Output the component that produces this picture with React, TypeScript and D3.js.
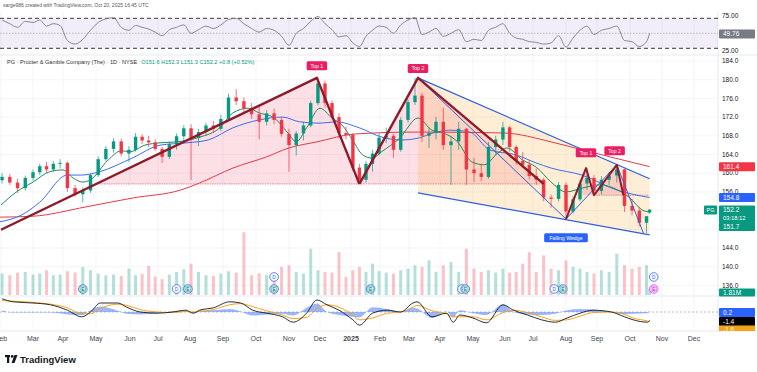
import React from "react";
import * as d3 from "d3";

// ---------------- DATA ----------------
// weekly candles (Friday closes) + the current session
const candleDates: Date[] = [
  ...d3.timeFriday.range(new Date(2024, 1, 2), new Date(2025, 9, 18)),
  new Date(2025, 9, 20),
];
const opens = [158.5,159.2,158.0,156.8,159.0,160.2,161.5,160.8,162.0,162.2,156.8,155.5,156.3,159.6,163.0,165.2,166.8,164.2,165.0,167.8,167.0,166.6,165.2,163.5,166.2,167.9,169.6,167.5,168.8,170.2,169.5,171.6,176.2,175.4,173.8,172.6,171.0,172.8,171.4,168.4,166.0,168.5,170.2,175.0,179.2,175.0,172.0,168.6,168.2,161.2,158.6,162.0,164.2,167.6,168.0,165.0,171.4,175.2,176.6,168.0,168.6,171.0,166.0,166.8,169.5,160.8,160.0,159.2,165.6,167.2,169.8,165.6,162.6,161.8,159.4,158.6,154.8,154.5,157.5,151.8,154.4,157.8,159.0,156.2,158.6,159.5,160.8,153.0,152.0,149.4,151.6];
const highs = [160.0,159.8,158.8,159.5,160.8,162.0,162.4,162.6,163.0,162.5,157.5,157.0,160.0,163.6,165.8,167.5,167.4,165.8,168.6,168.3,168.0,167.2,165.6,166.8,168.5,170.3,170.5,169.5,170.8,171.2,172.5,177.0,178.0,176.2,175.0,174.2,173.5,173.8,172.0,169.5,169.0,171.0,175.5,180.4,179.8,175.6,172.8,170.0,168.6,162.0,162.6,165.0,168.5,169.7,168.4,172.0,175.8,180.4,177.2,169.8,172.0,174.0,168.0,171.0,169.7,163.3,162.0,166.7,168.0,171.0,170.2,166.0,164.5,162.8,161.0,159.0,155.4,158.1,158.0,155.0,158.6,161.1,159.6,159.4,160.3,161.8,161.0,154.5,152.8,150.8,152.3];
const lows = [157.8,157.5,155.8,156.3,158.4,159.6,160.1,160.3,161.0,156.0,155.0,153.8,155.8,159.2,162.6,164.4,163.6,162.4,164.6,166.2,165.6,164.8,162.2,163.0,165.0,166.8,158.5,165.8,168.0,168.6,169.0,171.2,174.6,173.0,171.6,167.2,170.2,170.5,167.8,160.3,163.8,167.0,169.8,174.5,174.0,171.5,167.4,167.2,160.5,157.7,158.0,160.3,163.8,166.4,163.3,164.6,170.8,174.6,166.7,165.4,167.2,165.0,157.5,165.0,157.5,158.1,158.3,158.8,163.9,166.0,164.6,161.8,161.2,158.6,157.5,154.0,152.6,154.0,150.2,151.4,154.0,156.4,155.3,155.5,157.5,158.0,151.7,151.0,148.6,147.2,151.3];
const closes = [159.2,158.0,156.8,159.0,160.2,161.5,160.8,162.0,162.2,156.8,155.5,156.3,159.6,163.0,165.2,166.8,164.2,165.0,167.8,167.0,166.6,165.2,163.5,166.2,167.9,169.6,167.5,168.8,170.2,169.5,171.6,176.2,175.4,173.8,172.6,171.0,172.8,171.4,168.4,166.0,168.5,170.2,175.0,179.2,175.0,172.0,168.6,168.2,161.2,158.6,162.0,164.2,167.6,168.0,165.0,171.4,175.2,176.6,168.0,168.6,171.0,166.0,166.8,169.5,160.8,160.0,159.2,165.6,167.2,169.8,165.6,162.6,161.8,159.4,158.6,154.8,154.5,157.5,151.8,154.4,157.8,159.0,156.2,158.6,159.5,160.8,153.0,152.0,149.4,150.8,152.2];
// volume, millions (peak session of each week)
const volumes = [6.5,6.0,6.8,7.0,6.2,6.5,7.5,6.0,6.2,7.2,6.8,8.5,7.5,6.5,6.0,6.2,5.8,8.0,6.0,6.4,8.8,5.6,4.8,6.2,7.0,7.8,9.5,7.0,6.0,5.8,6.5,7.2,6.8,19.0,6.0,6.6,6.0,6.4,8.5,9.0,7.0,6.5,14.0,7.5,7.0,6.8,13.0,5.5,7.5,8.5,7.0,9.5,7.2,6.8,6.5,7.5,8.0,9.0,8.5,10.5,7.0,9.0,10.0,7.0,14.0,8.0,7.0,7.5,6.8,8.0,6.8,7.0,9.5,13.0,7.0,12.0,8.0,7.5,10.5,8.5,8.0,7.0,6.5,7.5,7.0,12.5,9.0,8.0,8.5,9.0,1.81];
const rsiValues = [72,66,60,70,68,72,62,66,63,38,32,40,55,68,74,76,60,55,63,60,57,52,46,56,60,64,50,56,62,58,64,73,75,66,58,52,58,55,45,30,50,58,70,78,66,56,44,46,34,28,45,55,62,60,50,64,72,76,48,52,58,45,50,56,36,40,38,55,60,66,50,42,40,36,35,32,34,46,27,42,55,62,48,55,58,62,38,36,28,36,49.76];

const emaDates = ["2024-02-01","2024-02-15","2024-03-01","2024-03-18","2024-04-01","2024-04-10","2024-04-19","2024-04-26","2024-05-12","2024-05-24","2024-06-01","2024-06-17","2024-07-03","2024-07-19","2024-08-10","2024-08-29","2024-09-10","2024-09-24","2024-10-04","2024-10-17","2024-10-31","2024-11-08","2024-11-18","2024-12-01","2024-12-13","2024-12-23","2025-01-03","2025-01-13","2025-01-24","2025-02-02","2025-02-20","2025-03-10","2025-03-24","2025-04-04","2025-04-17","2025-04-30","2025-05-12","2025-05-25","2025-06-03","2025-06-20","2025-07-04","2025-07-18","2025-08-01","2025-08-17","2025-09-03","2025-09-20","2025-10-01","2025-10-13","2025-10-20"];
const emaValues = [153.2,156.0,158.1,160.3,160.7,159.0,158.1,158.6,162.8,164.8,164.6,166.0,166.5,166.7,167.7,169.7,172.9,173.9,172.9,172.0,168.6,166.7,169.7,173.9,171.8,170.3,167.0,164.0,163.2,164.5,167.5,171.8,169.2,168.6,166.7,162.4,161.8,164.3,165.4,162.8,161.3,158.1,156.0,156.8,157.5,156.4,154.7,152.1,151.7];
const sma50Dates = ["2024-01-31","2024-02-20","2024-03-08","2024-04-05","2024-04-18","2024-05-04","2024-06-04","2024-07-03","2024-07-29","2024-08-18","2024-09-10","2024-10-04","2024-10-26","2024-11-11","2024-12-01","2024-12-17","2025-01-10","2025-02-03","2025-02-21","2025-03-10","2025-03-25","2025-04-10","2025-04-28","2025-05-17","2025-06-13","2025-07-04","2025-07-18","2025-08-17","2025-09-19","2025-10-20"];
const sma50Values = [149.6,151.1,153.8,159.6,159.6,160.3,163.3,166.0,166.5,167.1,169.7,171.4,172.0,171.0,170.7,171.0,169.7,167.7,167.1,167.5,168.6,169.2,168.8,165.0,163.9,162.2,161.1,159.6,156.4,154.8];
const sma200Dates = ["2024-01-31","2024-03-01","2024-04-22","2024-06-04","2024-07-23","2024-08-10","2024-09-10","2024-10-11","2024-11-01","2024-11-28","2025-01-06","2025-03-10","2025-05-31","2025-07-18","2025-08-17","2025-10-20"];
const sma200Values = [150.6,150.8,152.8,154.7,156.4,157.9,161.1,163.5,165.4,166.7,168.4,168.8,168.6,166.7,165.0,161.4];

const macdDates = ["2024-02-02","2024-02-12","2024-03-01","2024-03-19","2024-04-05","2024-04-18","2024-04-26","2024-05-05","2024-05-21","2024-05-29","2024-06-12","2024-06-30","2024-07-15","2024-07-28","2024-08-04","2024-08-10","2024-08-23","2024-09-07","2024-09-17","2024-09-28","2024-10-11","2024-10-26","2024-11-05","2024-11-18","2024-11-28","2024-12-08","2024-12-20","2025-01-03","2025-01-10","2025-01-24","2025-02-08","2025-02-21","2025-03-05","2025-03-09","2025-03-24","2025-04-07","2025-04-13","2025-04-19","2025-05-01","2025-05-14","2025-05-30","2025-06-10","2025-06-25","2025-07-09","2025-07-22","2025-08-02","2025-08-15","2025-08-28","2025-09-14","2025-09-26","2025-10-04","2025-10-18","2025-10-20"];
const macdValues = [2.2,1.7,1.5,1.2,0.3,-0.8,0.0,1.5,1.5,0.8,0.0,-0.2,0.0,0.3,-0.2,0.3,0.7,1.7,1.5,0.3,-0.2,-0.8,-1.7,-0.2,2.0,1.2,0.3,-1.3,-2.2,-0.2,0.3,0.0,1.5,1.7,-0.8,-0.2,-1.7,-0.5,-1.0,-1.8,1.2,0.3,-0.5,-1.3,-1.7,-1.0,-0.2,0.3,0.0,-0.8,-1.3,-1.7,-1.4];
const signalValues = [1.9,1.8,1.6,1.3,0.7,-0.3,-0.3,0.6,1.3,1.1,0.4,0.0,-0.1,0.1,0.0,0.1,0.4,1.2,1.4,0.9,0.2,-0.5,-1.1,-0.9,0.6,1.2,0.8,-0.5,-1.3,-1.0,-0.2,0.0,0.8,1.1,0.2,-0.3,-0.8,-0.8,-0.8,-1.3,-0.1,0.3,-0.1,-0.8,-1.4,-1.3,-0.7,-0.1,0.0,-0.4,-1.0,-1.5,-1.6];

const eventDates = ["2024-04-19","2024-07-19","2024-07-30","2024-10-18","2024-10-18","2025-01-22","2025-04-21","2025-04-24","2025-07-21","2025-07-29","2025-10-24","2025-10-24"];
const eventKinds = ["E","D","E","E","D","E","D","E","D","E","Ef","D"];

// pattern drawings (date, price)
const triangle1 = [["2024-02-01",147.9],["2024-11-28",180.4],["2025-01-10",157.7]];
const triangle1FillStart = ["2024-05-04",157.7];
const triangle2 = [["2025-01-10",157.7],["2025-03-10",180.4],["2025-07-11",157.7]];
const neckline1 = [["2024-05-04",157.7],["2025-07-11",157.7]];
const wedgeUpper = [["2025-03-10",180.4],["2025-10-20",158.8]];
const wedgeLower = [["2025-03-10",155.8],["2025-10-20",146.8]];
const wedgeInner = [["2025-03-10",180.4],["2025-08-01",150.2],["2025-09-19",161.8],["2025-10-14",147.2]];
const doubleTop = [["2025-08-01",150.2],["2025-08-21",161.1],["2025-08-29",155.3],["2025-09-19",161.8],["2025-09-25",155.3]];
const doubleTopFillA = [["2025-08-12",155.3],["2025-08-21",161.1],["2025-08-29",155.3]];
const doubleTopFillB = [["2025-08-29",155.3],["2025-09-19",161.8],["2025-09-25",155.3]];
const neckline2 = [["2025-08-29",155.3],["2025-10-20",155.3]];
const patternLabels = [
  { text: "Top 1", date: "2024-11-28", price: 183.0, color: "#e91e63" },
  { text: "Top 2", date: "2025-03-10", price: 182.4, color: "#e91e63" },
  { text: "Top 1", date: "2025-08-21", price: 164.4, color: "#e91e63" },
  { text: "Top 2", date: "2025-09-17", price: 164.8, color: "#e91e63" },
  { text: "Falling Wedge", date: "2025-08-01", price: 146.2, color: "#2962ff" },
];

const monthTicks = ["2024-02-01","2024-03-01","2024-04-01","2024-05-01","2024-06-01","2024-07-01","2024-08-01","2024-09-01","2024-10-01","2024-11-01","2024-12-01","2025-01-01","2025-02-01","2025-03-01","2025-04-01","2025-05-01","2025-06-01","2025-07-01","2025-08-01","2025-09-01","2025-10-01","2025-11-01","2025-12-01"];
const monthLabels = ["Feb","Mar","Apr","May","Jun","Jul","Aug","Sep","Oct","Nov","Dec","2025","Feb","Mar","Apr","May","Jun","Jul","Aug","Sep","Oct","Nov","Dec"];
const priceTicks = [184,180,176,172,168,164,160,156,152,148,144,140,136];
const priceTickLabels = [184,180,176,172,168,164,160,156,144,140,136];
const rsiTicks = [75, 25];

// ---------------- LAYOUT ----------------
const W = 757, H = 372;
const PLOT_R = 718;
const MONTH_X = [1,33,63,96,130,158,190,223,256,289,320,351,380,409,440,473,505,533,566,597,630,662,694];
const UP = "#089981", DOWN = "#f23645";
const FONT = '"Liberation Sans", Arial, sans-serif';

const parse = d3.timeParse("%Y-%m-%d");

export default function App() {
  const x = d3.scaleTime().domain(monthTicks.map((d) => parse(d)!)).range(MONTH_X);
  const y = d3.scaleLinear().domain([136, 184]).range([285.4, 61]);
  const vy = d3.scaleLinear().domain([0, 20]).range([295, 229]);
  const ry = d3.scaleLinear().domain([25, 75]).range([48.3, 18.3]);
  const my = d3.scaleLinear().domain([-2, 2]).range([324, 300]);

  const pt = (p: any[]) => [x(parse(p[0])!), y(p[1])] as [number, number];
  const poly = (ps: any[][]) => ps.map((p) => pt(p).join(",")).join(" ");
  const lineXY = d3.line<[number, number]>().x((d) => d[0]).y((d) => d[1]);

  const maLine = (dates: string[], vals: number[]) =>
    d3.line<number>().curve(d3.curveMonotoneX).x((_, i) => x(parse(dates[i])!)).y((v) => y(v))(vals) || "";

  const rsiPath = d3.line<number>().curve(d3.curveMonotoneX).x((_, i) => x(candleDates[i])).y((v) => ry(v))(rsiValues) || "";
  const macdPath = d3.line<number>().curve(d3.curveMonotoneX).x((_, i) => x(parse(macdDates[i])!)).y((v) => my(v))(macdValues) || "";
  const sigPath = d3.line<number>().curve(d3.curveMonotoneX).x((_, i) => x(parse(macdDates[i])!)).y((v) => my(v))(signalValues) || "";
  const histPath = d3.area<number>().curve(d3.curveMonotoneX).x((_, i) => x(parse(macdDates[i])!)).y0(my(0)).y1((v, i) => my(v - signalValues[i]))(macdValues) || "";

  const bw = 3.4;
  const vw = 3;

  const rightLabel = (yy: number, text: string, bg: string, fg = "#fff", h = 9) => (
    <g key={text + yy}>
      <rect x={719} y={yy - h / 2} width={36} height={h} rx={1} fill={bg} />
      <text x={723} y={yy + 2.2} fontSize={6.5} fill={fg}>{text}</text>
    </g>
  );

  return (
    <svg width={W} height={H} style={{ position: "absolute", left: 0, top: 0, background: "#fff", fontFamily: FONT }}>
      <defs>
        <clipPath id="mainClip"><rect x={0} y={55} width={PLOT_R} height={241} /></clipPath>
        <clipPath id="macdClip"><rect x={0} y={296} width={W} height={35} /></clipPath>
      </defs>
      <rect width={W} height={H} fill="#fff" />
      {/* header */}
      <text x={3} y={7} fontSize={5} fill="#555">sarge986 created with TradingView.com, Oct 20, 2025 16:45 UTC</text>

      {/* grid */}
      {monthTicks.map((m, i) => (
        <line key={"vg" + i} x1={x(parse(m)!)} x2={x(parse(m)!)} y1={12} y2={330} stroke="#f0f2f6" strokeWidth={0.8} />
      ))}
      {priceTicks.map((p) => (
        <line key={"hg" + p} x1={0} x2={PLOT_R} y1={y(p)} y2={y(p)} stroke="#f0f2f6" strokeWidth={0.8} />
      ))}
      {/* pane separators */}
      <line x1={0} x2={W} y1={55} y2={55} stroke="#e0e3eb" strokeWidth={0.8} />
      <line x1={0} x2={W} y1={296} y2={296} stroke="#e0e3eb" strokeWidth={0.8} />
      <line x1={0} x2={W} y1={331} y2={331} stroke="#e0e3eb" strokeWidth={0.8} />
      <line x1={PLOT_R} x2={PLOT_R} y1={12} y2={331} stroke="#e0e3eb" strokeWidth={0.8} />

      {/* RSI pane */}
      <rect x={0} y={ry(75)} width={PLOT_R} height={ry(25) - ry(75)} fill="rgba(126,87,194,0.1)" />
      {rsiTicks.map((t) => (
        <line key={"rt" + t} x1={0} x2={PLOT_R} y1={ry(t)} y2={ry(t)} stroke="#222" strokeWidth={0.9} strokeDasharray="4 3" />
      ))}
      <line x1={0} x2={PLOT_R} y1={ry(50)} y2={ry(50)} stroke="#a0a3ad" strokeWidth={0.7} strokeDasharray="1.5 1.5" />
      <path d={rsiPath} fill="none" stroke="#7b7e88" strokeWidth={0.9} />

      {/* main pane */}
      <g clipPath="url(#mainClip)">
        <text x={7} y={64} fontSize={5.6} fill="#333">
          PG · Procter &amp; Gamble Company (The) · 1D · NYSE
          <tspan fill={UP} dx={4}>O151.6 H152.3 L151.3 C152.2 +0.8 (+0.52%)</tspan>
        </text>
        {/* volume */}
        {candleDates.map((d, i) => (
          <rect key={"v" + i} x={x(d) - vw / 2} y={vy(volumes[i])} width={vw} height={vy(0) - vy(volumes[i])}
            fill={closes[i] >= opens[i] ? UP : DOWN} opacity={0.3} />
        ))}
        {/* pattern fills */}
        <polygon points={poly([triangle1FillStart, triangle1[1], triangle1[2]])} fill="rgba(242,54,100,0.16)" />
        <polygon points={poly(triangle2)} fill="rgba(242,54,100,0.16)" />
        <polygon points={poly([wedgeUpper[0], wedgeUpper[1], wedgeLower[1], wedgeLower[0]])} fill="rgba(255,152,0,0.16)" />
        <polygon points={poly(doubleTopFillA)} fill="rgba(242,54,100,0.18)" />
        <polygon points={poly(doubleTopFillB)} fill="rgba(242,54,100,0.18)" />
        <path d={lineXY(neckline1.map(pt)) || ""} stroke="#e0607a" strokeWidth={0.9} strokeDasharray="1.2 1.2" fill="none" />
        <path d={lineXY(neckline2.map(pt)) || ""} stroke="#e0607a" strokeWidth={0.9} strokeDasharray="1.2 1.2" fill="none" />
        {/* moving averages */}
        <path d={maLine(sma200Dates, sma200Values)} fill="none" stroke="#e53945" strokeWidth={1} />
        <path d={maLine(sma50Dates, sma50Values)} fill="none" stroke="#3d6cf0" strokeWidth={1} />
        <path d={maLine(emaDates, emaValues)} fill="none" stroke="#1e8a5a" strokeWidth={1} />
        {/* candles */}
        {candleDates.map((d, i) => {
          const c = closes[i] >= opens[i] ? UP : DOWN;
          const cx = x(d);
          const top = y(Math.max(opens[i], closes[i]));
          const bot = y(Math.min(opens[i], closes[i]));
          return (
            <g key={"c" + i}>
              <line x1={cx} x2={cx} y1={y(highs[i])} y2={y(lows[i])} stroke={c} strokeWidth={0.7} />
              <rect x={cx - bw / 2} y={top} width={bw} height={Math.max(0.8, bot - top)} fill={c} />
            </g>
          );
        })}
        {/* pattern lines */}
        <path d={lineXY(wedgeUpper.map(pt)) || ""} stroke="#2f5fe0" strokeWidth={1.2} fill="none" />
        <path d={lineXY(wedgeLower.map(pt)) || ""} stroke="#2f5fe0" strokeWidth={1.2} fill="none" />
        <path d={lineXY(wedgeInner.map(pt)) || ""} stroke="#2f5fe0" strokeWidth={1} fill="none" />
        <path d={lineXY(triangle1.map(pt)) || ""} stroke="#8e1b2c" strokeWidth={2.4} fill="none" strokeLinejoin="round" />
        <path d={lineXY(triangle2.map(pt)) || ""} stroke="#8e1b2c" strokeWidth={2.4} fill="none" strokeLinejoin="round" />
        <path d={lineXY(doubleTop.map(pt)) || ""} stroke="#8e1b2c" strokeWidth={2} fill="none" strokeLinejoin="round" />
        {/* labels */}
        {patternLabels.map((l, i) => {
          const [lx, ly] = pt([l.date, l.price]);
          const w = l.text.length * 2.9 + 6;
          return (
            <g key={"pl" + i}>
              <rect x={lx - w / 2} y={ly - 4.5} width={w} height={9} rx={1.5} fill={l.color} />
              <text x={lx} y={ly + 1.9} fontSize={5.2} fill="#fff" textAnchor="middle">{l.text}</text>
            </g>
          );
        })}
        {/* events */}
        {eventDates.map((d, i) => {
          const k = eventKinds[i];
          const ex = x(parse(d)!);
          const upper = k === "D" && eventDates.some((o, j) => j !== i && o === d);
          const ey = upper ? 277 : 289;
          const future = k === "Ef";
          return (
            <g key={"ev" + i}>
              <circle cx={ex} cy={ey} r={4.3} fill="#fff" stroke={future ? "#e040fb" : "#2962ff"} strokeWidth={0.8} />
              {k !== "D" && (
                <rect x={ex - 2.8} y={ey - 2.8} width={5.6} height={5.6} rx={1} fill={future ? "#f3d2fb" : "#cfeee4"} stroke={future ? "#e040fb" : UP} strokeWidth={0.5} />
              )}
              <text x={ex} y={ey + 1.8} fontSize={4.8} textAnchor="middle" fill={k === "D" ? "#2962ff" : future ? "#c020d0" : "#0b7a5e"}>{k === "Ef" ? "E" : k}</text>
            </g>
          );
        })}
      </g>

      {/* MACD pane */}
      <g clipPath="url(#macdClip)">
        <line x1={0} x2={PLOT_R} y1={my(0)} y2={my(0)} stroke="#a0a3ad" strokeWidth={0.7} strokeDasharray="2 2" />
        <path d={histPath} fill="#4c7cf3" opacity={0.55} />
        <path d={sigPath} fill="none" stroke="#f5a21b" strokeWidth={1} />
        <path d={macdPath} fill="none" stroke="#131722" strokeWidth={0.9} />
      </g>

      {/* right axis */}
      <text x={722} y={18} fontSize={6.5} fill="#131722">75.00</text>
      <text x={722} y={53} fontSize={6.5} fill="#131722">25.00</text>
      {rightLabel(34, "49.76", "#787b86")}
      {priceTickLabels.map((p) => (
        <text key={"pt" + p} x={722} y={y(p) + 2.2} fontSize={6.5} fill="#131722">{p.toFixed(1)}</text>
      ))}
      {rightLabel(y(161.4), "161.4", "#f23645")}
      {rightLabel(y(154.8), "154.8", "#2962ff")}
      <rect x={704} y={205.5} width={13} height={9} rx={1} fill={UP} />
      <text x={710.5} y={212} fontSize={5.5} fill="#fff" textAnchor="middle">PG</text>
      <rect x={719} y={205.5} width={36} height={17} rx={1} fill={UP} />
      <text x={723} y={212.2} fontSize={6.5} fill="#fff">152.2</text>
      <text x={723} y={220} fontSize={5.8} fill="#fff">03:18:12</text>
      {rightLabel(226.5, "151.7", UP)}
      {rightLabel(292.5, "1.81M", UP, "#fff", 8)}
      {rightLabel(312.5, "0.2", "#2962ff")}
      {rightLabel(321.5, "-1.4", "#000")}
      <g clipPath="url(#macdClip)">{rightLabel(330, "-1.6", "#f5a21b")}</g>

      {/* time axis */}
      {monthTicks.map((m, i) => (
        <text key={"mt" + i} x={x(parse(m)!)} y={341} fontSize={7} textAnchor="middle" fill="#434651"
          fontWeight={monthLabels[i] === "2025" ? "bold" : "normal"}>{monthLabels[i]}</text>
      ))}

      {/* logo */}
      <g transform="translate(5,355)">
        <rect x={0} y={0} width={5} height={2.2} fill="#131722" />
        <rect x={2} y={0} width={2.2} height={8} fill="#131722" />
        <circle cx={7.2} cy={1.4} r={1.4} fill="#131722" />
        <path d="M9.5 0 L12.5 0 L9.5 8 L6.5 8 Z" fill="#131722" />
      </g>
      <text x={20} y={363} fontSize={9.5} fontWeight="bold" fill="#131722">TradingView</text>
    </svg>
  );
}
